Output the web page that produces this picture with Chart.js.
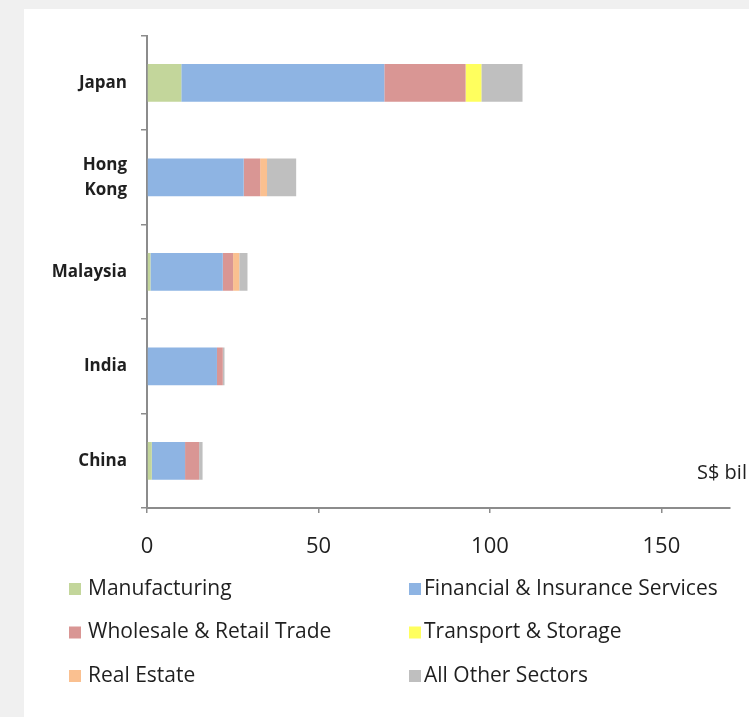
<!DOCTYPE html>
<html>
<head>
<meta charset="utf-8">
<script src="https://cdn.jsdelivr.net/npm/chart.js@4.4.0/dist/chart.umd.min.js"></script>
<style>
  html, body { margin: 0; padding: 0; background: #f0f0f0; }
  #panel { position: absolute; left: 24px; top: 9px; width: 725px; height: 708px; background: #fff; }
</style>
</head>
<body>
<div id="panel"><canvas id="chart" width="725" height="708"></canvas></div>
<script>
// countries (top to bottom) and sector values, S$ billion
const countries = [["Japan"], ["Hong", "Kong"], ["Malaysia"], ["India"], ["China"]];
const manufacturing = [10.0, 0, 1.0, 0, 1.4];
const financial = [59.2, 28.2, 21.1, 20.4, 9.7];
const wholesale = [23.7, 4.8, 3.0, 1.7, 4.1];
const transport = [4.6, 0, 0, 0, 0];
const realEstate = [0, 2.0, 1.8, 0, 0];
const otherSectors = [12.0, 8.5, 2.4, 0.5, 1.0];
const xTicks = [0, 50, 100, 150];
const unitLabel = "S$ bil";

const textColor = "#1f1f1f";
const axisColor = "#8c8c8c";

// legend in two columns, drawn from the datasets
const sectorLegend = {
  id: "sectorLegend",
  afterDraw(chart) {
    const ctx = chart.ctx;
    const boxX = [45, 385];
    const textX = [64, 400];
    ctx.save();
    ctx.font = '21px "Open Sans"';
    ctx.textBaseline = "middle";
    chart.data.datasets.forEach((ds, i) => {
      const col = i % 2, row = Math.floor(i / 2);
      const y = 580 + row * 43.5;
      ctx.fillStyle = ds.backgroundColor;
      ctx.fillRect(boxX[col], y - 6, 12, 12);
      ctx.fillStyle = textColor;
      ctx.fillText(ds.label, textX[col], y);
    });
    ctx.restore();
  }
};

// unit text at the right of the plot
const unitText = {
  id: "unitText",
  afterDraw(chart) {
    const ctx = chart.ctx;
    ctx.save();
    ctx.font = '20px "Open Sans"';
    ctx.fillStyle = textColor;
    ctx.textBaseline = "middle";
    ctx.fillText(unitLabel, 673, 464);
    ctx.restore();
  }
};

new Chart(document.getElementById("chart"), {
  type: "bar",
  plugins: [sectorLegend, unitText],
  data: {
    labels: countries,
    datasets: [
      { label: "Manufacturing", data: manufacturing, backgroundColor: "#c3d69b" },
      { label: "Financial & Insurance Services", data: financial, backgroundColor: "#8eb4e3" },
      { label: "Wholesale & Retail Trade", data: wholesale, backgroundColor: "#d99694" },
      { label: "Transport & Storage", data: transport, backgroundColor: "#ffff5e" },
      { label: "Real Estate", data: realEstate, backgroundColor: "#fac090" },
      { label: "All Other Sectors", data: otherSectors, backgroundColor: "#bfbfbf" },
    ],
  },
  options: {
    indexAxis: "y",
    responsive: false,
    animation: false,
    devicePixelRatio: 1,
    layout: { padding: { left: 0, top: 23, right: 19, bottom: 0 } },
    datasets: { bar: { barPercentage: 0.4, categoryPercentage: 1, borderWidth: 0 } },
    plugins: {
      legend: { display: false },
      tooltip: { enabled: false },
    },
    scales: {
      x: {
        stacked: true,
        min: 0,
        max: 170,
        afterBuildTicks: (axis) => {
          axis.ticks = xTicks.map((v) => ({ value: v }));
        },
        afterFit: (s) => { s.height = 209; },
        ticks: { color: textColor, font: { family: "Open Sans", size: 22 }, padding: 21, maxRotation: 0 },
        grid: { drawOnChartArea: false, tickLength: 5, color: axisColor, lineWidth: 1.5 },
        border: { color: axisColor, width: 2 },
      },
      y: {
        stacked: true,
        afterFit: (s) => { s.width = 123; },
        ticks: { color: textColor, font: { family: "Open Sans", size: 17, weight: "bold", lineHeight: 1.5 }, padding: 14 },
        grid: { drawOnChartArea: false, tickLength: 6, color: axisColor, lineWidth: 1.5 },
        border: { color: axisColor, width: 2 },
      },
    },
  },
});
</script>
</body>
</html>
